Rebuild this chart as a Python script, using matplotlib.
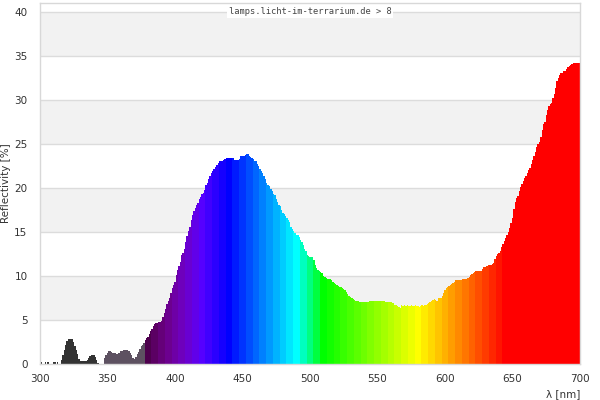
import numpy as np
import matplotlib
matplotlib.use('Agg')
import matplotlib.pyplot as plt

# wavelength grid, 1 nm steps
wl = np.arange(300, 701)

refl = [
    0, 0.2, 0, 0, 0.2, 0, 0.2, 0, 0, 0,
    0.2, 0.2, 0, 0.2, 0, 0, 0.4, 1.0, 1.6, 2.2,
    2.6, 2.8, 2.8, 2.8, 2.8, 2.5, 2.0, 1.6, 1.1, 0.6,
    0.3, 0.3, 0.3, 0.3, 0.3, 0.5, 0.7, 0.9, 1.0, 1.0,
    1.0, 0.8, 0.4, 0.1, 0, 0, 0, 0, 0.7, 1.0,
    1.3, 1.5, 1.5, 1.4, 1.3, 1.2, 1.2, 1.1, 1.2, 1.3,
    1.5, 1.5, 1.6, 1.6, 1.6, 1.6, 1.5, 1.3, 1.0, 0.7,
    0.6, 0.8, 1.1, 1.4, 1.7, 2.0, 2.2, 2.4, 2.7, 2.9,
    3.1, 3.4, 3.7, 4.0, 4.3, 4.5, 4.7, 4.7, 4.8, 4.8,
    4.9, 5.3, 5.8, 6.3, 6.8, 7.2, 7.5, 8.1, 8.6, 9.0,
    9.3, 10.1, 10.7, 11.1, 11.6, 12.4, 12.6, 13.1, 13.8, 14.5,
    15.1, 15.6, 16.3, 16.9, 17.4, 17.7, 18.1, 18.3, 18.7, 19.0,
    19.3, 19.4, 19.8, 20.3, 20.6, 21.0, 21.4, 21.7, 21.9, 22.1,
    22.4, 22.6, 22.8, 23.0, 23.0, 23.1, 23.2, 23.3, 23.4, 23.4,
    23.4, 23.4, 23.4, 23.4, 23.2, 23.2, 23.2, 23.2, 23.3, 23.6,
    23.6, 23.6, 23.7, 23.9, 23.8, 23.6, 23.5, 23.4, 23.3, 23.1,
    23.0, 22.7, 22.5, 22.2, 21.9, 21.7, 21.3, 21.0, 20.6, 20.3,
    20.2, 19.9, 19.6, 19.3, 19.2, 18.7, 18.4, 18.1, 17.9, 17.5,
    17.2, 17.0, 16.8, 16.6, 16.4, 16.1, 15.6, 15.3, 15.1, 14.9,
    14.7, 14.6, 14.4, 14.1, 13.9, 13.5, 13.1, 12.8, 12.4, 12.3,
    12.2, 12.2, 12.1, 11.8, 11.3, 10.9, 10.7, 10.6, 10.5, 10.3,
    10.0, 9.9, 9.8, 9.7, 9.7, 9.6, 9.5, 9.3, 9.2, 9.1,
    9.0, 8.9, 8.8, 8.7, 8.6, 8.5, 8.4, 8.2, 7.9, 7.7,
    7.6, 7.5, 7.4, 7.3, 7.2, 7.1, 7.1, 7.0, 7.0, 7.0,
    7.0, 7.0, 7.0, 7.0, 7.2, 7.1, 7.2, 7.1, 7.2, 7.1,
    7.2, 7.1, 7.1, 7.2, 7.1, 7.1, 7.0, 7.0, 7.0, 7.0,
    7.0, 6.9, 6.9, 6.7, 6.7, 6.6, 6.5, 6.4, 6.7, 6.6,
    6.7, 6.6, 6.7, 6.6, 6.6, 6.7, 6.6, 6.6, 6.7, 6.6,
    6.6, 6.5, 6.6, 6.7, 6.6, 6.7, 6.7, 6.8, 6.9, 7.0,
    7.2, 7.3, 7.4, 7.3, 7.2, 7.5, 7.5, 7.5, 7.7, 8.1,
    8.4, 8.6, 8.8, 8.9, 9.0, 9.1, 9.2, 9.3, 9.5, 9.5,
    9.5, 9.5, 9.5, 9.6, 9.6, 9.7, 9.7, 9.8, 9.9, 10.1,
    10.2, 10.3, 10.4, 10.6, 10.6, 10.6, 10.6, 10.6, 10.8, 11.0,
    11.0, 11.1, 11.2, 11.2, 11.3, 11.4, 11.5, 11.9, 12.3, 12.5,
    12.6, 12.8, 13.3, 13.6, 14.0, 14.3, 14.6, 15.0, 15.4, 16.0,
    16.6, 17.6, 18.4, 18.8, 19.1, 19.6, 20.1, 20.5, 20.8, 21.1,
    21.4, 21.7, 22.0, 22.3, 22.7, 23.2, 23.6, 24.1, 24.6, 25.0,
    25.2, 25.8, 26.6, 27.3, 27.5, 28.3, 28.9, 29.3, 29.5, 29.6,
    30.2, 30.7, 31.3, 32.1, 32.5, 32.8, 33.0, 33.1, 33.3, 33.3,
    33.5, 33.7, 33.9, 34.0, 34.1, 34.2, 34.2, 34.2, 34.2, 34.2,
    34.2,
]

xticks = [300, 350, 400, 450, 500, 550, 600, 650, 700]
yticks = [0, 5, 10, 15, 20, 25, 30, 35, 40]


def wl_color(w):
    if w < 347.5:
        return '#333333'
    if w < 377.5:
        return '#5d5161'
    w = int(np.floor(w / 5 + 0.5)) * 5
    if w < 440:
        r, g, b = (440 - w) / 60, 0, 1
    elif w < 490:
        r, g, b = 0, (w - 440) / 50, 1
    elif w < 510:
        r, g, b = 0, 1, (510 - w) / 20
    elif w < 580:
        r, g, b = (w - 510) / 70, 1, 0
    elif w < 645:
        r, g, b = 1, (645 - w) / 65, 0
    else:
        r, g, b = 1, 0, 0
    f = 0.3 + 0.7 * (w - 380) / 40 if w < 420 else 1.0
    return (r * f, g * f, b * f)


colors = [wl_color(w) for w in wl]

fig = plt.figure(figsize=(6, 4), dpi=100)
ax = fig.add_axes([40/600, 36/400, 540/600, 361/400])

# alternating background bands
for lo in range(5, 40, 10):
    ax.axhspan(lo, lo + 5, color='#f2f2f2', zorder=0, lw=0)
for y in yticks[1:]:
    ax.axhline(y, color='#dcdcdc', lw=1, zorder=1)

ax.bar(wl, refl, width=1.0, color=colors, linewidth=0, zorder=2)

ax.set_xlim(300, 700)
ax.set_ylim(0, 41)
ax.set_xticks(xticks)
ax.set_yticks(yticks)
ax.tick_params(length=0, labelsize=7.5, colors='#333333')
ax.tick_params(axis='x', pad=7)
ax.tick_params(axis='y', pad=9)
for s in ax.spines.values():
    s.set_color('#d8d8d8')
    s.set_linewidth(1)

ax.set_ylabel('Reflectivity [%]', fontsize=7.5, color='#333333', labelpad=2)
fig.text(580/600, 1 - 394/400, 'λ [nm]', ha='right', va='center',
         fontsize=7.5, color='#333333')
ax.text(0.5, 40, 'lamps.licht-im-terrarium.de > 8', ha='center', va='center',
        family='DejaVu Sans Mono', fontsize=6.3, color='#444444', zorder=3,
        bbox=dict(facecolor='white', edgecolor='none', pad=1),
        transform=ax.get_yaxis_transform())

fig.savefig('out.png', dpi=100)
